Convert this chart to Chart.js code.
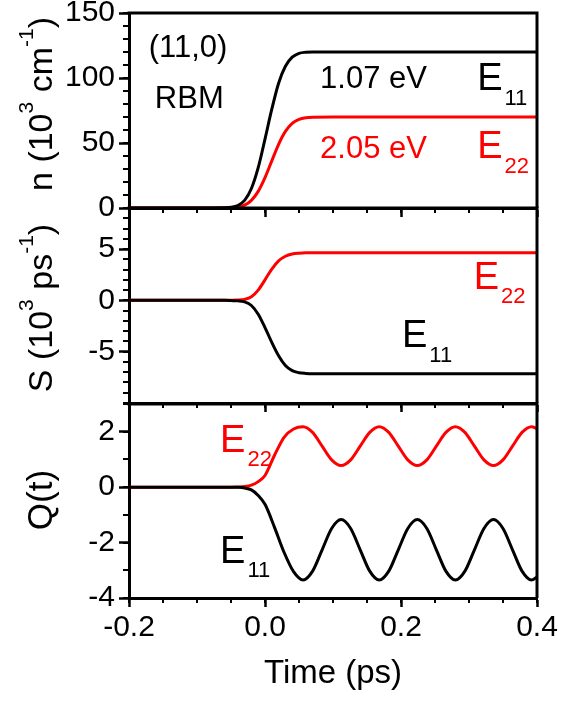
<!DOCTYPE html>
<html>
<head>
<meta charset="utf-8">
<script src="https://cdn.jsdelivr.net/npm/chart.js@4.4.0/dist/chart.umd.min.js"></script>
<style>
body { margin: 0; background: #fff; }
#wrap { position: relative; width: 574px; height: 701px; }
#wrap canvas { position: absolute; left: 0; top: 0; }
</style>
</head>
<body>
<div id="wrap">
<canvas id="c1" width="574" height="701"></canvas>
<canvas id="c2" width="574" height="701"></canvas>
<canvas id="c3" width="574" height="701"></canvas>
</div>
<script>
// time axis (ps)
var xTicks = [-0.2, 0.0, 0.2, 0.4];

// top panel: n (10^3 cm^-1)
var tN = [-0.2, -0.1, -0.06, -0.05, -0.04, -0.03, -0.02, -0.01, 0, 0.01, 0.02, 0.03, 0.04, 0.05, 0.06, 0.07, 0.1, 0.4];
var nE11 = [0, 0, 0.2, 0.5, 1.9, 5.9, 15, 31, 53, 76, 96, 109, 116, 119, 119.8, 120, 120, 120];
var nE22 = [0, 0, 0, 0.2, 0.7, 2.2, 5.9, 12.8, 23.4, 36.3, 49, 58.9, 65.1, 68.2, 69.5, 69.9, 70, 70];
var nTicks = [0, 50, 100, 150];

// middle panel: S (10^3 ps^-1)
var tS = [-0.2, -0.1, -0.06, -0.05, -0.04, -0.03, -0.02, -0.01, 0, 0.01, 0.02, 0.03, 0.04, 0.05, 0.06, 0.07, 0.1, 0.4];
var sE11 = [0, 0, 0, -0.02, -0.05, -0.15, -0.5, -1.35, -2.65, -4.1, -5.4, -6.35, -6.85, -7.05, -7.12, -7.15, -7.15, -7.15];
var sE22 = [0, 0, 0, 0.01, 0.03, 0.1, 0.35, 1.0, 2.0, 3.05, 3.85, 4.3, 4.52, 4.6, 4.63, 4.63, 4.63, 4.63];
var sTicks = [-5, 0, 5];

// bottom panel: Q(t)
var tQ = [-0.2, -0.1, -0.05, -0.04, -0.03, -0.02, -0.01, 0, 0.014, 0.028, 0.042,
  0.056, 0.070, 0.084, 0.098, 0.112, 0.126, 0.140, 0.154, 0.168, 0.182, 0.196, 0.210,
  0.224, 0.238, 0.252, 0.266, 0.280, 0.294, 0.308, 0.322, 0.336, 0.350, 0.364, 0.378, 0.392, 0.4];
var qE11 = [0, 0, 0, -0.005, -0.03, -0.1, -0.3, -0.62, -1.45, -2.35, -3.05,
  -3.35, -3.03, -2.26, -1.49, -1.17, -1.49, -2.26, -3.03, -3.35, -3.03, -2.26, -1.49,
  -1.17, -1.49, -2.26, -3.03, -3.35, -3.03, -2.26, -1.49, -1.17, -1.49, -2.26, -3.03, -3.35, -3.24];
var qE22 = [0, 0, 0, 0.005, 0.02, 0.07, 0.2, 0.42, 1.15, 1.8, 2.1,
  2.18, 1.975, 1.48, 0.985, 0.78, 0.985, 1.48, 1.975, 2.18, 1.975, 1.48, 0.985,
  0.78, 0.985, 1.48, 1.975, 2.18, 1.975, 1.48, 0.985, 0.78, 0.985, 1.48, 1.975, 2.18, 2.11];
var qTicks = [-4, -2, 0, 2];

var FONT = "'Liberation Sans', Arial, sans-serif";
var RED = "#ff0000";

function pts(xs, ys) {
    return xs.map((x, i) => ({ x: x, y: ys[i] }));
}

// minor ticks and the top/right frame
var frameTicks = {
    id: "frameTicks",
    afterDraw(chart, args, opts) {
        var ctx = chart.ctx, a = chart.chartArea;
        var xs = chart.scales.x, ys = chart.scales.y;
        ctx.save();
        ctx.strokeStyle = "#000";
        ctx.lineWidth = 2;
        ctx.beginPath();
        var n = Math.round((xs.max - xs.min) / opts.xMinor);
        for (var i = 0; i <= n; i++) {
            var p = Math.round(xs.getPixelForValue(xs.min + i * opts.xMinor));
            ctx.moveTo(p, a.bottom);
            ctx.lineTo(p, a.bottom + 5);
        }
        n = Math.round((ys.max - ys.min) / opts.yMinor);
        for (i = 0; i <= n; i++) {
            var q = Math.round(ys.getPixelForValue(ys.min + i * opts.yMinor));
            ctx.moveTo(a.left, q);
            ctx.lineTo(a.left - 6, q);
        }
        ctx.stroke();
        ctx.lineWidth = 3;
        ctx.beginPath();
        ctx.moveTo(a.left - 1.5, a.top);
        ctx.lineTo(a.right, a.top);
        ctx.lineTo(a.right, a.bottom);
        ctx.stroke();
        ctx.restore();
    }
};

// text with sub/superscripts
var richText = {
    id: "richText",
    afterDraw(chart, args, opts) {
        var ctx = chart.ctx;
        (opts.items || []).forEach(function (it) {
            var px = it.px != null ? it.px : chart.scales.x.getPixelForValue(it.x);
            var py = it.py != null ? it.py : chart.scales.y.getPixelForValue(it.y);
            ctx.save();
            ctx.translate(px, py);
            if (it.rot) ctx.rotate(it.rot);
            ctx.fillStyle = it.color || "#000";
            ctx.textBaseline = "alphabetic";
            var w = 0;
            it.segs.forEach(function (s) {
                ctx.font = s[1] + "px " + FONT;
                w += ctx.measureText(s[0]).width + (s[3] || 0);
            });
            var x0 = it.center ? -w / 2 : 0;
            it.segs.forEach(function (s) {
                ctx.font = s[1] + "px " + FONT;
                ctx.fillText(s[0], x0, s[2] || 0);
                x0 += ctx.measureText(s[0]).width + (s[3] || 0);
            });
            ctx.restore();
        });
    }
};

function makePanel(id, p) {
    new Chart(document.getElementById(id), {
        type: "line",
        data: {
            datasets: [
                { data: pts(p.t, p.black), borderColor: "#000", borderWidth: 3, pointRadius: 0, cubicInterpolationMode: "monotone" },
                { data: pts(p.t, p.red), borderColor: RED, borderWidth: 3, pointRadius: 0, cubicInterpolationMode: "monotone" },
            ],
        },
        options: {
            responsive: false,
            animation: false,
            layout: { padding: { left: 0, right: 37, top: p.top, bottom: p.bottom } },
            plugins: {
                legend: { display: false },
                tooltip: { enabled: false },
                frameTicks: { xMinor: 0.05, yMinor: p.yMinor },
                richText: { items: p.texts },
            },
            scales: {
                x: {
                    type: "linear",
                    min: -0.2,
                    max: 0.4,
                    afterBuildTicks: (s) => { s.ticks = xTicks.map((v) => ({ value: v })); },
                    afterFit: (s) => { s.height = p.xh; s.paddingLeft = 0; s.paddingRight = 0; },
                    grid: { drawOnChartArea: false, drawTicks: true, tickLength: 9, tickWidth: 2.5, tickColor: "#000" },
                    border: { display: true, color: "#000", width: 3 },
                    ticks: {
                        display: p.xLabels,
                        color: "#000",
                        padding: 3,
                        maxRotation: 0,
                        font: { family: FONT, size: 30 },
                        callback: (v) => (Math.abs(v) < 1e-9 ? "0.0" : v.toFixed(1)),
                    },
                    title: {
                        display: p.xLabels,
                        text: "Time (ps)",
                        color: "#000",
                        font: { family: FONT, size: 33 },
                        padding: { top: 0, bottom: 7 },
                    },
                },
                y: {
                    min: p.ymin,
                    max: p.ymax,
                    afterBuildTicks: (s) => { s.ticks = p.yTicks.map((v) => ({ value: v })); },
                    afterFit: (s) => { s.width = 129; s.paddingTop = 0; s.paddingBottom = 0; },
                    grid: { drawOnChartArea: false, drawTicks: true, tickLength: 10, tickWidth: 2.5, tickColor: "#000" },
                    border: { display: true, color: "#000", width: 3 },
                    ticks: { color: "#000", padding: 4, font: { family: FONT, size: 30 } },
                },
            },
        },
        plugins: [frameTicks, richText],
    });
}

makePanel("c1", {
    t: tN, black: nE11, red: nE22, ymin: 0, ymax: 150, yTicks: nTicks, yMinor: 10,
    top: 13, xh: 10, bottom: 701 - 208 - 10, xLabels: false,
    texts: [
        { x: -0.171, y: 116, segs: [["(11,0)", 31]] },
        { x: -0.162, y: 77, segs: [["RBM", 31]] },
        { x: 0.081, y: 92.3, segs: [["1.07 eV", 31]] },
        { x: 0.312, y: 90.8, segs: [["E", 38, 0, 2], ["11", 22, 15]] },
        { x: 0.081, y: 38.5, color: RED, segs: [["2.05 eV", 31]] },
        { x: 0.312, y: 38.5, color: RED, segs: [["E", 38, 0, 2], ["22", 22, 15]] },
        { px: 52, py: 104, rot: -Math.PI / 2, center: true,
          segs: [["n (10", 34], ["3", 21, -19], [" cm", 34], ["-1", 21, -19], [")", 34]] },
    ],
});

makePanel("c2", {
    t: tS, black: sE11, red: sE22, ymin: -10, ymax: 9, yTicks: sTicks, yMinor: 1,
    top: 208, xh: 10, bottom: 701 - 403 - 10, xLabels: false,
    texts: [
        { x: 0.307, y: 1.07, color: RED, segs: [["E", 38, 0, 2], ["22", 22, 14]] },
        { x: 0.2015, y: -4.56, segs: [["E", 38, 0, 2], ["11", 22, 15]] },
        { px: 52, py: 308, rot: -Math.PI / 2, center: true,
          segs: [["S (10", 34], ["3", 21, -19], [" ps", 34], ["-1", 21, -19], [")", 34]] },
    ],
});

makePanel("c3", {
    t: tQ, black: qE11, red: qE22, ymin: -4, ymax: 3, yTicks: qTicks, yMinor: 1,
    top: 404, xh: 103, bottom: 0, xLabels: true,
    texts: [
        { x: -0.066, y: 1.26, color: RED, segs: [["E", 38, 0, 2], ["22", 22, 14]] },
        { x: -0.066, y: -2.74, segs: [["E", 38, 0, 2], ["11", 22, 14]] },
        { px: 52, py: 500, rot: -Math.PI / 2, center: true, segs: [["Q(t)", 35]] },
    ],
});
</script>
</body>
</html>
